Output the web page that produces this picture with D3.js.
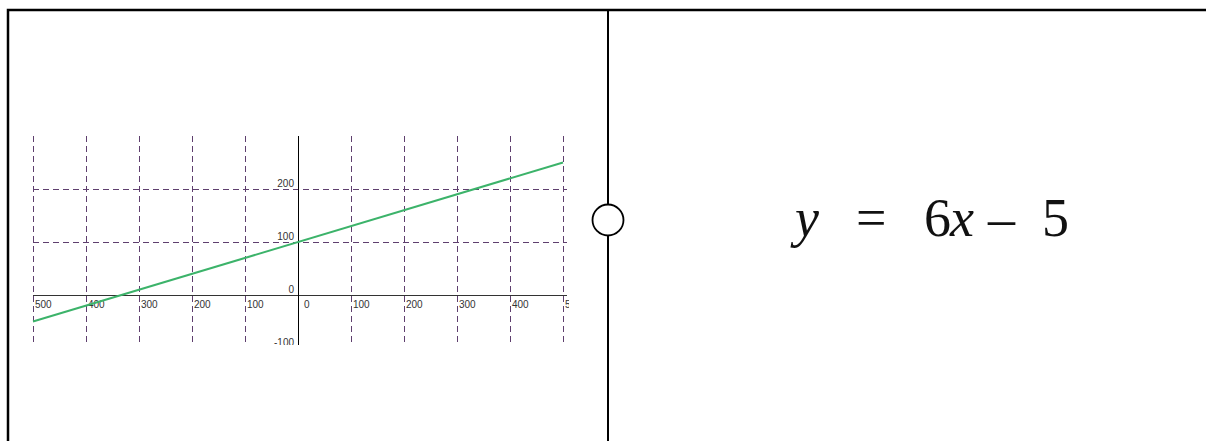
<!DOCTYPE html>
<html lang="en">
<head>
<meta charset="utf-8" />
<title>Linear function card</title>
<script src="https://cdn.jsdelivr.net/npm/d3@7"></script>
<style>
  body { margin: 0; background: #fff; }
  .grid line { stroke: #5e3f6e; stroke-width: 1; stroke-dasharray: 6,4; }
  .tick-label { font-family: "Liberation Sans", Arial, sans-serif; font-size: 10px; fill: #333; }
  .eq { font-family: "Liberation Serif", serif; font-size: 54px; fill: #111; }
</style>
</head>
<body>
<script>
// ticks and their printed labels
var xTicks = [-500, -400, -300, -200, -100, 0, 100, 200, 300, 400, 500];
var xTickLabels = ["500", "400", "300", "200", "100", "0", "100", "200", "300", "400", "500"];
var yTicks = [-100, 0, 100, 200];
var yTickLabels = ["-100", "0", "100", "200"];
var yGrid = [100, 200];

// the plotted line (y = 0.3x + 100)
var lineX = [-500, 500];
var lineY = [-50, 250];

// equation pieces shown on the right half
var eqParts = ["y", "=", "6", "x", "\u2013", "5"];
var eqItalic = [true, false, false, true, false, false];

var W = 1206, H = 441;

var svg = d3.select("body").append("svg")
    .attr("width", W)
    .attr("height", H);

// card frame
svg.append("path")
    .attr("d", "M8,441 V10 H1206")
    .attr("fill", "none").attr("stroke", "#000").attr("stroke-width", 2.5);
svg.append("line")
    .attr("x1", 608).attr("x2", 608).attr("y1", 10).attr("y2", 441)
    .attr("stroke", "#000").attr("stroke-width", 2);
svg.append("circle")
    .attr("cx", 608).attr("cy", 220).attr("r", 15.5)
    .attr("fill", "#fff").attr("stroke", "#000").attr("stroke-width", 1.8);

// scales
var x = d3.scaleLinear().domain([-500, 500]).range([33, 563]);
var y = d3.scaleLinear().domain([-100, 300]).range([348, 136]);

svg.append("clipPath").attr("id", "clip")
  .append("rect").attr("x", 30).attr("y", 136).attr("width", 539).attr("height", 209);

var plot = svg.append("g").attr("clip-path", "url(#clip)");

// vertical grid
plot.append("g").attr("class", "grid")
  .selectAll("line").data(xTicks.filter(function(d) { return d !== 0; }))
  .enter().append("line")
    .attr("x1", function(d) { return x(d) + 0.5; })
    .attr("x2", function(d) { return x(d) + 0.5; })
    .attr("y1", 136).attr("y2", 345);

// horizontal grid
plot.append("g").attr("class", "grid")
  .selectAll("line").data(yGrid)
  .enter().append("line")
    .attr("x1", 33).attr("x2", 567)
    .attr("y1", function(d) { return Math.round(y(d)) + 0.5; })
    .attr("y2", function(d) { return Math.round(y(d)) + 0.5; });

// axes
plot.append("line")
    .attr("x1", 33).attr("x2", 567)
    .attr("y1", Math.round(y(0)) + 0.5).attr("y2", Math.round(y(0)) + 0.5)
    .attr("stroke", "#333").attr("stroke-width", 1);
plot.append("line")
    .attr("x1", x(0) + 0.5).attr("x2", x(0) + 0.5)
    .attr("y1", 136).attr("y2", 345)
    .attr("stroke", "#000").attr("stroke-width", 1);

// x tick labels
plot.append("g").selectAll("text").data(xTicks)
  .enter().append("text")
    .attr("class", "tick-label")
    .attr("x", function(d) { return x(d) + (d === 0 ? 6 : 2); })
    .attr("y", y(0) + 13)
    .text(function(d, i) { return xTickLabels[i]; });

// y tick labels
plot.append("g").selectAll("text").data(yTicks)
  .enter().append("text")
    .attr("class", "tick-label")
    .attr("text-anchor", "end")
    .attr("x", x(0) - 4)
    .attr("y", function(d) { return y(d) - 2; })
    .text(function(d, i) { return yTickLabels[i]; });

// the function line
var pts = lineX.map(function(v, i) { return [v, lineY[i]]; });
plot.append("path")
    .datum(pts)
    .attr("fill", "none")
    .attr("stroke", "#3cb36a")
    .attr("stroke-width", 2)
    .attr("d", d3.line().x(function(d) { return x(d[0]); }).y(function(d) { return y(d[1]); }));

// equation, spaced out like the original
var eqX = [795, 856, 924, 950, 988, 1042];
svg.append("g").selectAll("text").data(eqParts)
  .enter().append("text")
    .attr("class", "eq")
    .attr("x", function(d, i) { return eqX[i]; })
    .attr("y", 236)
    .attr("font-style", function(d, i) { return eqItalic[i] ? "italic" : "normal"; })
    .text(function(d) { return d; });
</script>
</body>
</html>
